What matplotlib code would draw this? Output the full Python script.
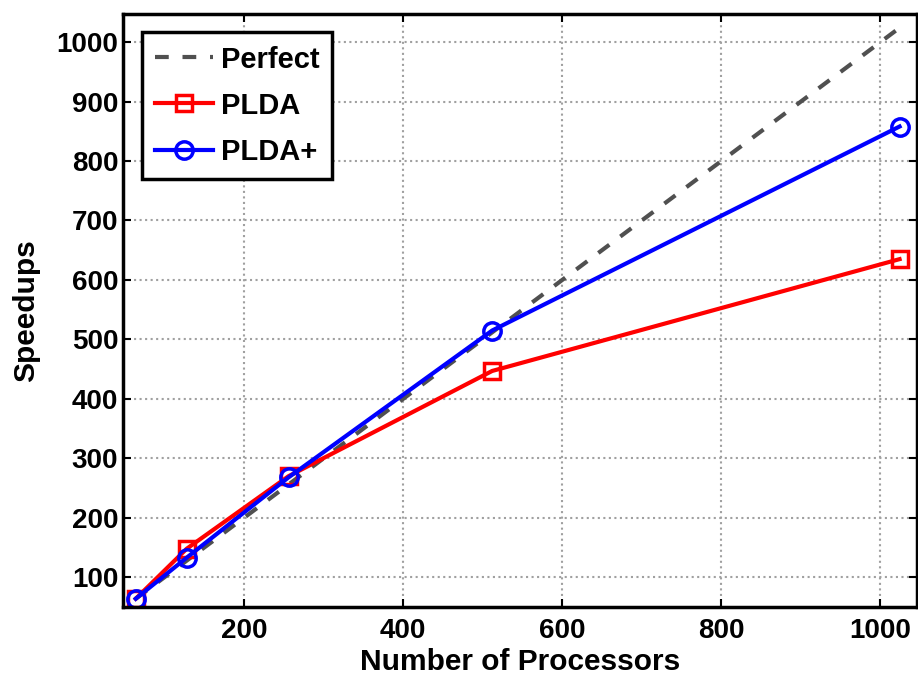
import numpy as np
import matplotlib.pyplot as plt

# data
procs = [64, 128, 256, 512, 1024]
perfect = [64, 128, 256, 512, 1024]
plda = [64, 148, 270, 447, 635]
plda_plus = [64, 133, 268, 515, 858]

xticks = [200, 400, 600, 800, 1000]
yticks = [100, 200, 300, 400, 500, 600, 700, 800, 900, 1000]

plt.rcParams['font.family'] = ['Liberation Sans', 'DejaVu Sans']
plt.rcParams['font.weight'] = 'bold'

fig = plt.figure(figsize=(9.18, 6.76), dpi=100)
ax = fig.add_axes([0.134, 0.102, 0.865, 0.878])

ax.plot(procs, perfect, '--', color='#505050', lw=3, dashes=(3.3, 3.3), label='Perfect')
ax.plot(procs, plda, '-s', color='red', lw=3, ms=11, mew=2.5, mfc='none', label='PLDA')
ax.plot(procs, plda_plus, '-o', color='blue', lw=3, ms=12.5, mew=2.5, mfc='none', label='PLDA+')

ax.set_xlim(48, 1046)
ax.set_ylim(50, 1048)
ax.set_xticks(xticks)
ax.set_yticks(yticks)
ax.grid(True, linestyle=':', color='#a0a0a0', lw=1.5)
ax.tick_params(axis='x', pad=8)
ax.tick_params(direction='in', top=True, right=True, length=6, width=1.5, labelsize=20)
for s in ax.spines.values():
    s.set_linewidth(2.5)

ax.set_xlabel('Number of Processors', fontsize=21.5, fontweight='bold', labelpad=3)
ax.set_ylabel('Speedups', fontsize=21.5, fontweight='bold', labelpad=12)

leg = ax.legend(loc='upper left', fontsize=21, fancybox=False, framealpha=1,
                edgecolor='black', handlelength=2.0, handletextpad=0.25,
                borderpad=0.45, borderaxespad=0.65, labelspacing=0.62)
leg.get_frame().set_linewidth(2.5)

fig.savefig('out.png', dpi=100)
